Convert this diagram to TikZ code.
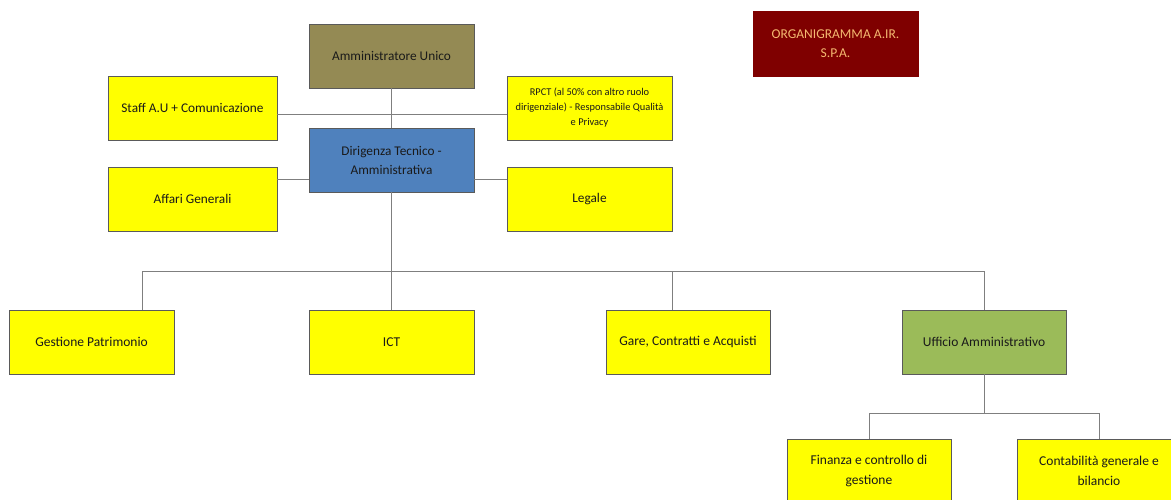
\documentclass[tikz,border=0pt]{standalone}
\usepackage{fontspec}
\setmainfont{Carlito}
\definecolor{boxyellow}{HTML}{FFFF00}
\definecolor{boxolive}{HTML}{948A54}
\definecolor{boxblue}{HTML}{4F81BD}
\definecolor{boxgreen}{HTML}{9BBB59}
\definecolor{boxred}{HTML}{7F0000}
\definecolor{orgtext}{HTML}{F4B870}
\definecolor{edge}{HTML}{5A5A5A}
\definecolor{conn}{HTML}{7F7F7F}
\definecolor{txt}{HTML}{1A1A1A}
\begin{document}
\begin{tikzpicture}[x=1pt,y=-1pt,
  unit/.style={draw=edge, line width=0.9pt, rectangle, minimum height=64pt, align=center, inner sep=2pt, text=txt, font=\fontsize{13.3}{19}\selectfont},
  yel/.style={unit, fill=boxyellow},
  small/.style={font=\fontsize{10.4}{15}\selectfont},
  mid/.style={font=\fontsize{13.5}{19.5}\selectfont},
  link/.style={draw=conn, line width=1pt}]
\useasboundingbox (0,0) rectangle (1171,500);
\clip (0,0) rectangle (1171,500);
\fill[white] (0,0) rectangle (1171,500);

\node[unit, fill=boxolive, minimum width=165pt] (au) at (391.5,56) {Amministratore Unico};
\node[yel, minimum width=169pt] (staff) at (192.5,108) {Staff A.U + Comunicazione};
\node[yel, small, minimum width=165pt] (rpct) at (589.5,108) {RPCT (al 50\% con altro ruolo\\dirigenziale) - Responsabile Qualità\\e Privacy};
\node[unit, fill=boxblue, minimum width=165pt] (dir) at (391.5,160) {Dirigenza Tecnico -\\Amministrativa};
\node[yel, minimum width=169pt] (aff) at (192.5,199) {Affari Generali};
\node[yel, minimum width=165pt] (leg) at (589.5,199) {Legale};

\node[yel, mid, minimum width=165pt] (gp) at (91.5,342) {Gestione Patrimonio};
\node[yel, mid, minimum width=165pt] (ict) at (391.5,342) {ICT};
\node[yel, mid, minimum width=164pt] (gare) at (688,342) {Gare, Contratti e Acquisti};
\node[unit, mid, fill=boxgreen, minimum width=164pt] (ua) at (984,342) {Ufficio Amministrativo};
\node[yel, mid, minimum width=164pt] (fin) at (869,471) {Finanza e controllo di\\gestione};
\node[yel, mid, minimum width=164pt] (cont) at (1099,471) {Contabilità generale e\\bilancio};

\node[unit, draw=boxred, fill=boxred, text=orgtext, mid, minimum width=165pt, minimum height=65pt] (org) at (835.5,43.5) {ORGANIGRAMMA A.IR.\\S.P.A.};

\coordinate (row1) at (0,115);
\coordinate (row2) at (0,180);
\coordinate (bus1) at (0,271);
\coordinate (bus2) at (0,413);
\coordinate (gptop) at (142,310);

\draw[link] (au.south) -- (dir.north);
\draw[link] (staff.east |- row1) -- (rpct.west |- row1);
\draw[link] (aff.east |- row2) -- (dir.west |- row2);
\draw[link] (dir.east |- row2) -- (leg.west |- row2);
\draw[link] (dir.south) -- (ict.north);
\draw[link] (gptop) -- (gptop |- bus1) -| (ua.north);
\draw[link] (gare.north -| 672,0) -- (672,0 |- bus1);
\draw[link] (ua.south) -- (ua.south |- bus2);
\draw[link] (fin.north) -- (fin.north |- bus2) -| (cont.north);
\end{tikzpicture}
\end{document}
